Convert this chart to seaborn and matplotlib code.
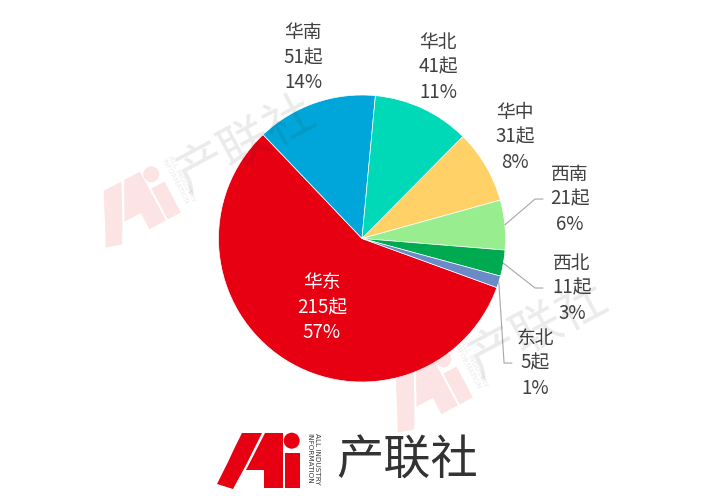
import numpy as np
import seaborn as sns
import matplotlib.pyplot as plt
from matplotlib.patches import Polygon, Circle
from matplotlib.transforms import Affine2D

regions = ['华东', '华南', '华北', '华中', '西南', '西北', '东北']
counts = [215, 51, 41, 31, 21, 11, 5]
colors = ['#E60012', '#00A6D9', '#00D9B8', '#FFD166', '#98EE8E', '#00AA50', '#6A8AC8']

# label centres (middle line) in pie-radius units, and leader end x (None = no leader)
label_xy = [(-0.28, -0.48), (-0.41, 1.258), (0.53, 1.195), (1.066, 0.707),
            (1.449, 0.275), (1.463, -0.345), (1.206, -0.868)]
leader_x = [None, None, None, None, 1.261, 1.261, 1.045]

sns.set_theme(style='white')
plt.rcParams['font.family'] = ['Noto Sans CJK SC', 'DejaVu Sans']

W, H = 714, 496
fig = plt.figure(figsize=(W / 100, H / 100), dpi=100)
fig.patch.set_facecolor('white')

cx, cy, r = 362, 496 - 238.5, 143.5
ax = fig.add_axes([(cx - r) / W, (cy - r) / H, 2 * r / W, 2 * r / H])
wedges, _ = ax.pie(counts, colors=colors, startangle=-20, counterclock=False, radius=1,
                   wedgeprops=dict(edgecolor='white', linewidth=0.5))
ax.set_xlim(-1, 1)
ax.set_ylim(-1, 1)
ax.set_aspect('equal')
ax.axis('off')

total = sum(counts)
for i, (name, n) in enumerate(zip(regions, counts)):
    pct = round(n / total * 100)
    txt = f'{name}\n{n}起\n{pct}%'
    lx, ly = label_xy[i]
    col = 'white' if i == 0 else '#404040'
    ax.text(lx, ly, txt, ha='center', va='center', fontsize=13.5, color=col,
            linespacing=1.25, clip_on=False)
    if leader_x[i] is not None:
        w = wedges[i]
        mid = np.deg2rad((w.theta1 + w.theta2) / 2)
        ex, ey = np.cos(mid), np.sin(mid)
        ax.plot([ex, leader_x[i] - 0.055, leader_x[i]], [ey, ly, ly],
                color='#A6A6A6', lw=0.8, clip_on=False)

# logo / watermark overlay in figure pixels
ov = fig.add_axes([0, 0, 1, 1])
ov.set_xlim(0, W)
ov.set_ylim(0, H)
ov.patch.set_alpha(0)
ov.axis('off')

stroke1 = [(25, 56), (45, 56), (38, 42), (29, 24), (16, 0), (0, 5), (11, 27), (18, 42)]
stroke2 = [(48, 56), (66, 56), (66, 0.7), (47.3, 0.7), (47.3, 19), (28.7, 19)]
ibar = [(68, 0.7), (83, 0.7), (83, 35.7), (68, 35.7)]


def draw_logo(x0, y0, angle, alpha, text_xy, text_size, zorder):
    tr = Affine2D().rotate_deg(angle).translate(x0, y0)
    for pts in (stroke1, stroke2, ibar):
        p = tr.transform(np.array(pts))
        ov.add_patch(Polygon(p, closed=True, facecolor='#E60012', alpha=alpha[0],
                             edgecolor='none', zorder=zorder))
    c = tr.transform([(74.7, 48.3)])[0]
    ov.add_patch(Circle(c, 8, facecolor='#E60012', alpha=alpha[0], edgecolor='none', zorder=zorder))
    for (tx, ty), s in (((100, 56), 'ALL INDUSTRY'), ((92, 56), 'INFORMATION')):
        p = tr.transform([(tx, ty)])[0]
        ov.text(p[0], p[1], s, rotation=angle - 90, rotation_mode='anchor', ha='left', va='center',
                fontsize=5.2, color='#3A3A3A', alpha=alpha[1], family='DejaVu Sans', zorder=zorder)
    p = tr.transform([text_xy])[0]
    ov.text(p[0], p[1], '产联社', rotation=angle, rotation_mode='anchor', ha='center', va='center',
            fontsize=text_size, color='#333333', alpha=alpha[1], fontweight='light', zorder=zorder)


draw_logo(217, H - 489, 0, (1.0, 1.0), (190, 28), 34, 3)
draw_logo(108, H - 252, 28, (0.11, 0.1), (172, 30), 36, 5)
draw_logo(400, H - 437, 28, (0.11, 0.1), (172, 30), 36, 5)

fig.savefig('out.png', dpi=100, facecolor='white')
